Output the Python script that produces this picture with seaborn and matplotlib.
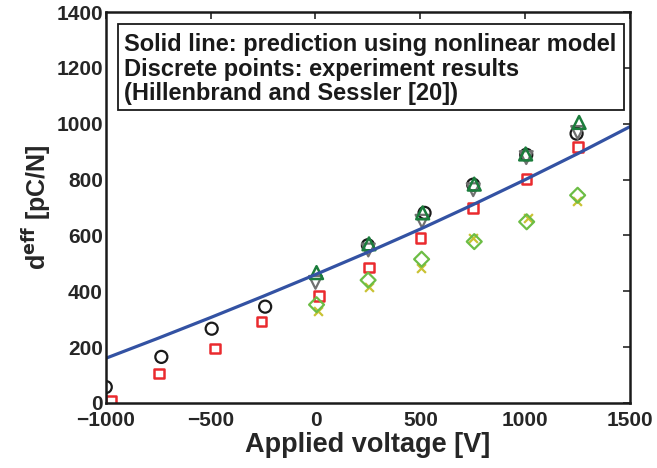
import numpy as np
import matplotlib
matplotlib.use('Agg')

import matplotlib.pyplot as plt
import seaborn as sns
from matplotlib.patches import Rectangle

# ================= DATA =================

line_v = [-1000, -750, -500, -250, 0, 250, 500, 750, 1000, 1250, 1500]
line_d = [160, 232, 306, 382, 460, 540, 623, 710, 800, 893, 990]

circ_v = [-1000, -735, -495, -240, 250, 520, 752, 1005, 1245]
circ_d = [57, 165, 266, 345, 565, 681, 782, 889, 965]

sq_v = [-976, -747, -480, -257, 16, 256, 501, 752, 1007, 1253]
sq_d = [7, 106, 195, 292, 384, 485, 592, 699, 802, 916]

tri_up_v = [5, 255, 511, 757, 1002, 1257]
tri_up_d = [467, 570, 681, 784, 892, 1005]

tri_dn_v = [0, 252, 508, 752, 1005, 1250]
tri_dn_d = [432, 548, 651, 764, 879, 969]

dia_v = [5, 251, 506, 757, 1007, 1250]
dia_d = [352, 440, 515, 578, 649, 744]

x_v = [10, 256, 501, 750, 1012, 1246]
x_d = [329, 414, 485, 590, 663, 722]

X_TICKS = [-1000, -500, 0, 500, 1000, 1500]
X_LABELS = ['\u22121000', '\u2212500', '0', '500', '1000', '1500']
Y_TICKS = [0, 200, 400, 600, 800, 1000, 1200, 1400]

NOTE_LINES = ['Solid line: prediction using nonlinear model',
              'Discrete points: experiment results',
              '(Hillenbrand and Sessler [20])']

# ================= STYLE =================

sns.set_style('white')
plt.rcParams['font.family'] = ['Liberation Sans', 'DejaVu Sans']
plt.rcParams['font.weight'] = 'bold'
plt.rcParams['axes.labelweight'] = 'bold'
plt.rcParams['mathtext.default'] = 'bf'

fig = plt.figure(figsize=(6.57, 4.68), dpi=100)
ax = fig.add_axes([0.161, 0.139, 0.798, 0.835])

# ================= PLOT =================

sns.lineplot(x=line_v, y=line_d, ax=ax, color='#3352a3', lw=2.3)

sns.scatterplot(x=circ_v, y=circ_d, ax=ax, marker='o', s=75,
                facecolor='none', edgecolor='#1a1a1a', linewidth=1.6)
sns.scatterplot(x=sq_v, y=sq_d, ax=ax, marker='s', s=48,
                facecolor='none', edgecolor='#ea2a2e', linewidth=1.8)
sns.scatterplot(x=tri_dn_v, y=tri_dn_d, ax=ax, marker='v', s=85,
                facecolor='none', edgecolor='#707070', linewidth=1.6)
sns.scatterplot(x=x_v, y=x_d, ax=ax, marker='x', s=40,
                color='#c9c232', linewidth=1.6)
sns.scatterplot(x=dia_v, y=dia_d, ax=ax, marker='D', s=58,
                facecolor='none', edgecolor='#6cbd45', linewidth=1.6)
sns.scatterplot(x=tri_up_v, y=tri_up_d, ax=ax, marker='^', s=85,
                facecolor='none', edgecolor='#1b7d3c', linewidth=1.8)

ax.set_xlim(-1000, 1500)
ax.set_ylim(0, 1400)
ax.set_xticks(X_TICKS)
ax.set_yticks(Y_TICKS)
ax.set_xticklabels(X_LABELS)

ax.tick_params(direction='in', length=5, width=1.2, labelsize=15,
               top=True, right=True)
ax.tick_params(axis='x', pad=6)
ax.tick_params(axis='y', pad=2)
for s in ax.spines.values():
    s.set_linewidth(1.8)
    s.set_color('#1a1a1a')

ax.set_xlabel('Applied voltage [V]', fontsize=19.5, labelpad=1)
ax.set_ylabel(r'd$^{eff}$ [pC/N]', fontsize=18, labelpad=2)

# ================= NOTE BOX =================

ax.add_patch(Rectangle((-943, 1050), 2415, 306, facecolor='white',
                       edgecolor='#1a1a1a', linewidth=1.3, zorder=5))
for i, txt in enumerate(NOTE_LINES):
    ax.text(-912, 1284 - 88 * i, txt, fontsize=17, fontweight='bold',
            va='center', ha='left', color='#1a1a1a', zorder=6)

plt.savefig('out.png', dpi=100)
plt.close()
